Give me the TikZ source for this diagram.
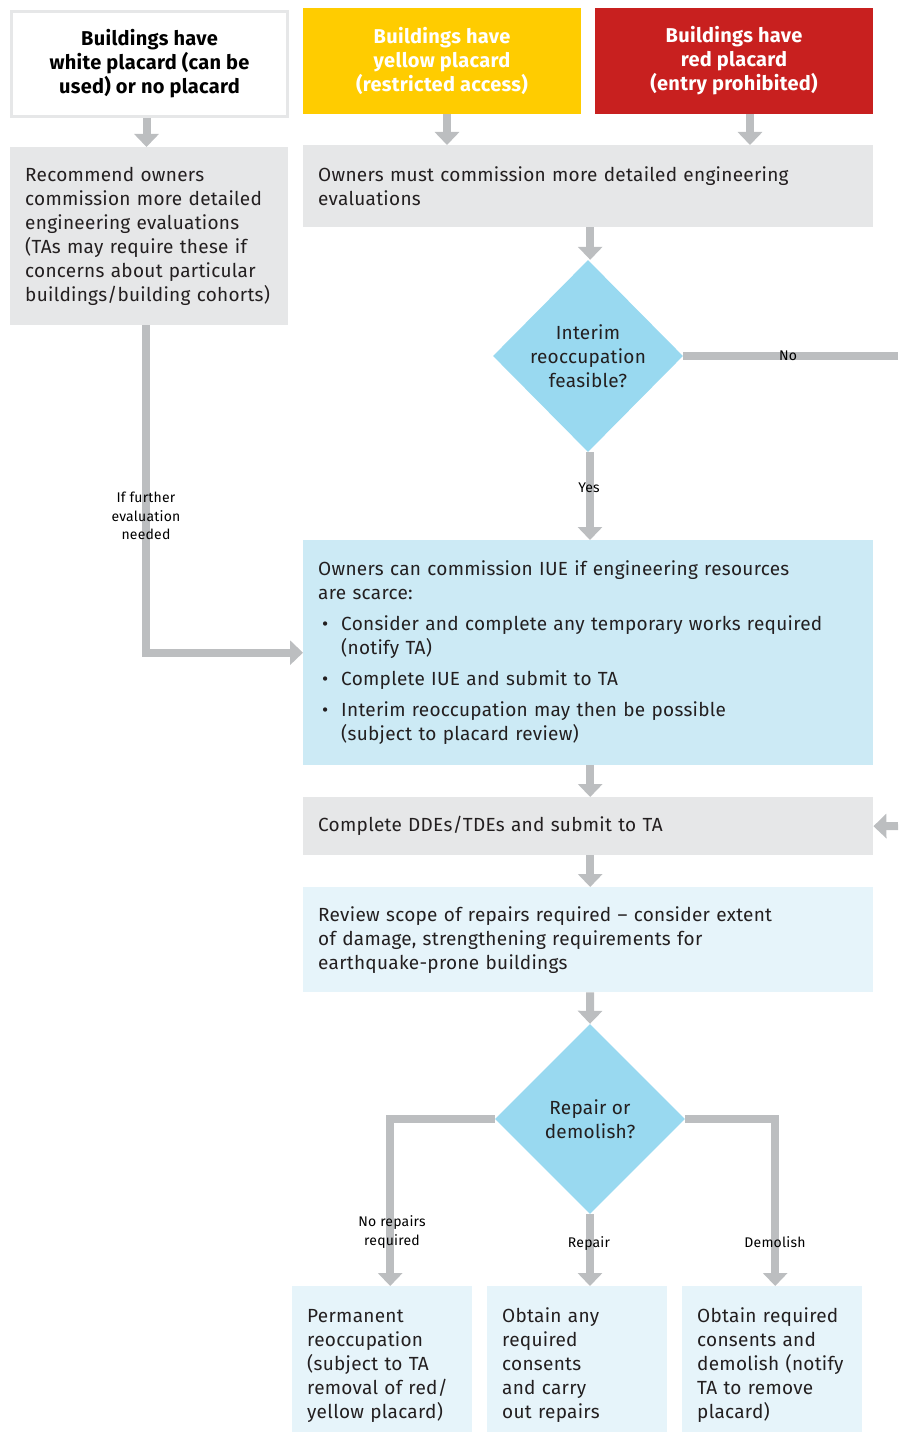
\documentclass[tikz,border=0pt]{standalone}
\usepackage{fontspec}
\setmainfont{Fira Sans}[LetterSpace=1.5]
\usetikzlibrary{arrows.meta,shapes.geometric}
\definecolor{flowgray}{HTML}{BCBEC0}
\definecolor{boxgray}{HTML}{E6E7E8}
\definecolor{placyellow}{HTML}{FFCC00}
\definecolor{placred}{HTML}{C8201F}
\definecolor{diablue}{HTML}{99D9F0}
\definecolor{midblue}{HTML}{CCEAF5}
\definecolor{paleblue}{HTML}{E6F4FA}
\definecolor{ink}{HTML}{231F20}
\tikzset{
  flow/.style={draw=flowgray, line width=8pt, -{Triangle[width=24pt,length=13pt]}},
  flowline/.style={draw=flowgray, line width=8pt},
  header/.style={minimum width=278pt, minimum height=106pt, inner sep=0pt, align=center,
     font=\fontsize{20}{24}\selectfont\bfseries},
  stepbox/.style={anchor=north west, inner xsep=15pt, inner ysep=0pt, align=left,
     text=ink, font=\fontsize{19}{24}\selectfont},
  decision/.style={diamond, fill=diablue, minimum width=190pt, minimum height=192pt,
     inner sep=0pt, align=center, text=ink, font=\fontsize{19}{24}\selectfont},
  lbl/.style={text=black, align=center, inner sep=0pt, font=\fontsize{14}{18.5}\selectfont},
}
\begin{document}
\begin{tikzpicture}[x=1pt,y=-1pt]
\useasboundingbox (0,0) rectangle (898,1434);
% headers
\node[header, fill=white, draw=boxgray, line width=3pt, minimum width=276pt, minimum height=105pt, text=black] (white) at (149.5,64)
  {Buildings have\\white placard (can be\\used) or no placard};
\node[header, fill=placyellow, text=white] (yellow) at (442,61)
  {Buildings have\\yellow placard\\(restricted access)};
\node[header, fill=placred, text=white] (red) at (734,61)
  {Buildings have\\red placard\\(entry prohibited)};
% gray boxes
\node[stepbox, fill=boxgray, text width=248pt, minimum height=178pt] (lgray) at (10,147)
  {Recommend owners\\commission more detailed\\engineering evaluations\\(TAs may require these if\\concerns about particular\\buildings/building cohorts)};
\node[stepbox, fill=boxgray, text width=540pt, minimum height=82pt] (rgray) at (303,145)
  {Owners must commission more detailed engineering\\evaluations};
\node[decision] (dia1) at (588,356) {Interim\\reoccupation\\feasible?};
\node[stepbox, fill=midblue, text width=540pt, minimum height=225pt] (iue) at (303,540)
  {Owners can commission IUE if engineering resources\\are scarce:\\[7pt]
   \makebox[23pt][l]{\hspace{4pt}•}Consider and complete any temporary works required\\
   \hspace*{23pt}(notify TA)\\[7pt]
   \makebox[23pt][l]{\hspace{4pt}•}Complete IUE and submit to TA\\[7pt]
   \makebox[23pt][l]{\hspace{4pt}•}Interim reoccupation may then be possible\\
   \hspace*{23pt}(subject to placard review)};
\node[stepbox, fill=boxgray, text width=540pt, minimum height=58pt] (dde) at (303,797)
  {Complete DDEs/TDEs and submit to TA};
\node[stepbox, fill=paleblue, text width=540pt, minimum height=105pt] (review) at (303,887)
  {Review scope of repairs required -- consider extent\\of damage, strengthening requirements for\\earthquake-prone buildings};
\node[decision, minimum width=190pt, minimum height=190pt] (dia2) at (590,1119) {Repair or\\demolish?};
\node[stepbox, fill=paleblue, text width=150pt, minimum height=146pt] (perm) at (292,1286)
  {\rule{0pt}{27pt}Permanent\\reoccupation\\(subject to TA\\removal of red/\\yellow placard)};
\node[stepbox, fill=paleblue, text width=150pt, minimum height=146pt] (repair) at (487,1286)
  {\rule{0pt}{27pt}Obtain any\\required\\consents\\and carry\\out repairs};
\node[stepbox, fill=paleblue, text width=150pt, minimum height=146pt] (demol) at (682,1286)
  {\rule{0pt}{27pt}Obtain required\\consents and\\demolish (notify\\TA to remove\\placard)};
% connectors
\coordinate (noend) at (898,356);
\coordinate (noback) at (898,826);
\draw[flow] ([xshift=-3pt]white.south) -- ([xshift=-3pt]white.south |- lgray.north);
\draw[flow] ([xshift=5pt]yellow.south) -- ([xshift=5pt]yellow.south |- rgray.north);
\draw[flow] ([xshift=16pt]red.south) -- ([xshift=16pt]red.south |- rgray.north);
\draw[flow] ([xshift=2pt]rgray.south) -- ([xshift=2pt]rgray.south |- dia1.north);
\draw[flowline] (dia1.east) -- (noend);
\draw[flow] ([xshift=2pt]dia1.south) -- ([xshift=2pt]dia1.south |- iue.north);
\draw[flow] ([xshift=-3pt]lgray.south) |- (iue.west);
\draw[flow] ([xshift=2pt]iue.south) -- ([xshift=2pt]iue.south |- dde.north);
\draw[flow] (noback) -- (dde.east);
\draw[flow] ([xshift=2pt]dde.south) -- ([xshift=2pt]dde.south |- review.north);
\draw[flow] ([xshift=2pt]review.south) -- (dia2.north);
\draw[flow] (dia2.west) -| ([xshift=8pt]perm.north);
\draw[flow] (dia2.south) -- (dia2.south |- repair.north);
\draw[flow] (dia2.east) -| ([xshift=3pt]demol.north);
% labels
\node[lbl] (lno) at (788,356) {No};
\node[lbl] (lyes) at (589,488) {Yes};
\node[lbl] (lfurther) at (146,516) {If further\\evaluation\\needed};
\node[lbl] (lnorep) at (392,1232) {No repairs\\required};
\node[lbl] (lrep) at (589,1244) {Repair};
\node[lbl] (ldem) at (775,1242) {Demolish};
\end{tikzpicture}
\end{document}
